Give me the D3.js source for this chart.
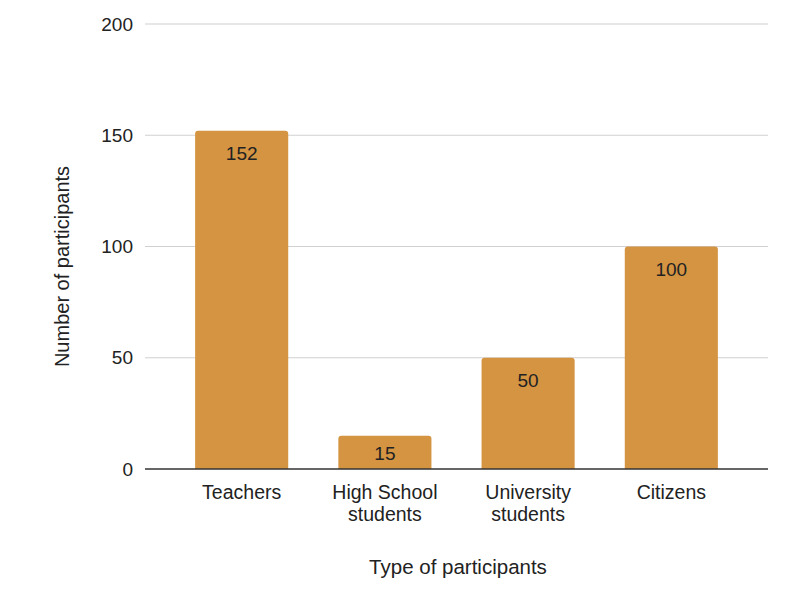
<!DOCTYPE html>
<html>
<head>
<meta charset="utf-8">
<script src="https://cdn.jsdelivr.net/npm/d3@7"></script>
<style>
  body { margin: 0; background: #fff; }
  text { font-family: "Liberation Sans", Arial, sans-serif; fill: #222; }
</style>
</head>
<body>
<div class="chart"></div>
<script>
const categories = ['Teachers', 'High School\nstudents', 'University\nstudents', 'Citizens'];
const values = [152, 15, 50, 100];
const yTicks = [0, 50, 100, 150, 200];

const W = 792, H = 610;
const margin = {top: 24, right: 24, bottom: 141, left: 145};
const width = W - margin.left - margin.right;
const height = H - margin.top - margin.bottom;

const data = categories.map((c, i) => ({cat: c, value: values[i]}));

const svg = d3.select('.chart').append('svg')
    .attr('width', W)
    .attr('height', H);

const g = svg.append('g')
    .attr('transform', `translate(${margin.left},${margin.top})`);

const x = d3.scaleBand()
    .domain(categories)
    .range([0, width])
    .paddingInner(0.35)
    .paddingOuter(0.35);

const y = d3.scaleLinear()
    .domain([0, 200])
    .range([height, 0]);

// gridlines
g.append('g')
  .selectAll('line')
  .data(yTicks.filter(d => d > 0))
  .enter().append('line')
    .attr('x1', 0)
    .attr('x2', width)
    .attr('y1', d => y(d))
    .attr('y2', d => y(d))
    .attr('stroke', '#d0d0d0')
    .attr('stroke-width', 1.2);

// y tick labels
g.append('g')
  .selectAll('text')
  .data(yTicks)
  .enter().append('text')
    .attr('x', -12)
    .attr('y', d => y(d))
    .attr('dy', '0.35em')
    .attr('text-anchor', 'end')
    .style('font-size', '19px')
    .text(d => d);

// bars with slightly rounded top corners
const r = 3;
g.append('g')
  .selectAll('path')
  .data(data)
  .enter().append('path')
    .attr('fill', '#d49442')
    .attr('d', d => {
      const x0 = x(d.cat), x1 = x0 + x.bandwidth();
      const y0 = y(d.value), y1 = y(0);
      return `M${x0},${y1}V${y0 + r}Q${x0},${y0} ${x0 + r},${y0}H${x1 - r}Q${x1},${y0} ${x1},${y0 + r}V${y1}Z`;
    });

// value labels
g.append('g')
  .selectAll('text')
  .data(data)
  .enter().append('text')
    .attr('x', d => x(d.cat) + x.bandwidth() / 2)
    .attr('y', d => Math.min(y(d.value) + 29, y(0) - 9))
    .attr('text-anchor', 'middle')
    .style('font-size', '19px')
    .text(d => d.value);

// baseline
g.append('line')
    .attr('x1', 0)
    .attr('x2', width)
    .attr('y1', y(0))
    .attr('y2', y(0))
    .attr('stroke', '#333')
    .attr('stroke-width', 1.3);

// x category labels
const xl = g.append('g')
  .selectAll('text')
  .data(categories)
  .enter().append('text')
    .attr('x', d => x(d) + x.bandwidth() / 2)
    .attr('y', height + 30)
    .attr('text-anchor', 'middle')
    .style('font-size', '19.5px');
xl.selectAll('tspan')
  .data(d => d.split('\n'))
  .enter().append('tspan')
    .attr('x', function () { return d3.select(this.parentNode).attr('x'); })
    .attr('dy', (d, i) => i === 0 ? 0 : 22)
    .text(d => d);

// axis titles
svg.append('text')
    .attr('x', 458)
    .attr('y', 574)
    .attr('text-anchor', 'middle')
    .style('font-size', '20.5px')
    .text('Type of participants');

svg.append('text')
    .attr('transform', `translate(69,${margin.top + height / 2 + 20})rotate(-90)`)
    .attr('text-anchor', 'middle')
    .style('font-size', '20px')
    .text('Number of participants');
</script>
</body>
</html>
